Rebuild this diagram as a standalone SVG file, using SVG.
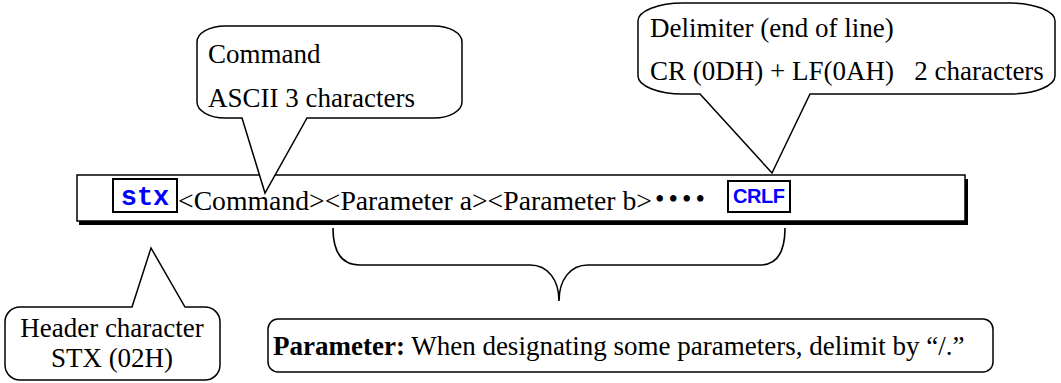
<svg xmlns="http://www.w3.org/2000/svg" width="1061" height="383" viewBox="0 0 1061 383">
<style>
.ln{fill:#fff;stroke:#000;stroke-width:1.5}
.t{font-family:"Liberation Serif","Times New Roman",serif;font-size:27px;fill:#000}
.b{font-weight:bold}
.key{fill:#fff;stroke:#000;stroke-width:2}
.kt{font-weight:bold;fill:#0000ff}
</style>
<rect width="1061" height="383" fill="#fff"/>
<g id="main-line">
<rect x="79" y="179" width="889" height="46" fill="#000"/>
<rect class="ln" x="77" y="175" width="888" height="46" stroke-width="1.2"/>
<rect class="key" x="113" y="179" width="64" height="33"/>
<text class="kt" x="145" y="205" text-anchor="middle" font-family="Liberation Mono,monospace" font-size="27">stx</text>
<text class="t" x="178" y="210" font-size="27.7" textLength="474" lengthAdjust="spacingAndGlyphs">&lt;Command&gt;&lt;Parameter a&gt;&lt;Parameter b&gt;</text>
<text class="t" x="655" y="208" font-size="20" textLength="50">••••</text>
<rect class="key" x="728" y="181" width="62" height="31"/>
<text class="kt" x="759" y="203" text-anchor="middle" font-family="Liberation Sans,Arial,sans-serif" font-size="20" textLength="52">CRLF</text>
</g>
<g id="command-callout">
<path class="ln" d="M225,26 L434,26 A28,16 0 0 1 462,42 L462,102 A28,16 0 0 1 434,118 L307,118 L265,193 L242,118 L225,118 A28,16 0 0 1 197,102 L197,42 A28,16 0 0 1 225,26 Z"/>
<text class="t" x="208" y="63">Command</text>
<text class="t" x="208" y="107">ASCII 3 characters</text>
</g>
<g id="delimiter-callout">
<path class="ln" d="M683,3 L1010,3 A45,18 0 0 1 1055,21 L1055,76 A45,18 0 0 1 1010,94 L810,94 L772,173 L700,94 L683,94 A45,18 0 0 1 638,76 L638,21 A45,18 0 0 1 683,3 Z"/>
<text class="t" x="650" y="37">Delimiter (end of line)</text>
<text class="t" x="650" y="80" xml:space="preserve">CR (0DH) + LF(0AH)   2 characters</text>
</g>
<g id="header-callout">
<path class="ln" d="M20,307 L132,307 L151,248 L185,307 L205,307 A15,15 0 0 1 220,322 L220,365 A15,15 0 0 1 205,380 L20,380 A15,15 0 0 1 5,365 L5,322 A15,15 0 0 1 20,307 Z"/>
<text class="t" x="112" y="337" text-anchor="middle">Header character</text>
<text class="t" x="112" y="367" text-anchor="middle">STX (02H)</text>
</g>
<g id="connectors">
<path d="M333,228 C333,252 342,265 360,265 L530,265 C548,265 559,280 559,301 C559,280 570,265 588,265 L760,265 C777,265 785,252 785,228" fill="none" stroke="#000" stroke-width="1.6"/>
</g>
<g id="parameter-note">
<rect class="ln" x="268" y="319" width="725" height="53" rx="10"/>
<text class="t" x="273" y="355"><tspan class="b">Parameter:</tspan> When designating some parameters, delimit by “/.”</text>
</g>
</svg>
